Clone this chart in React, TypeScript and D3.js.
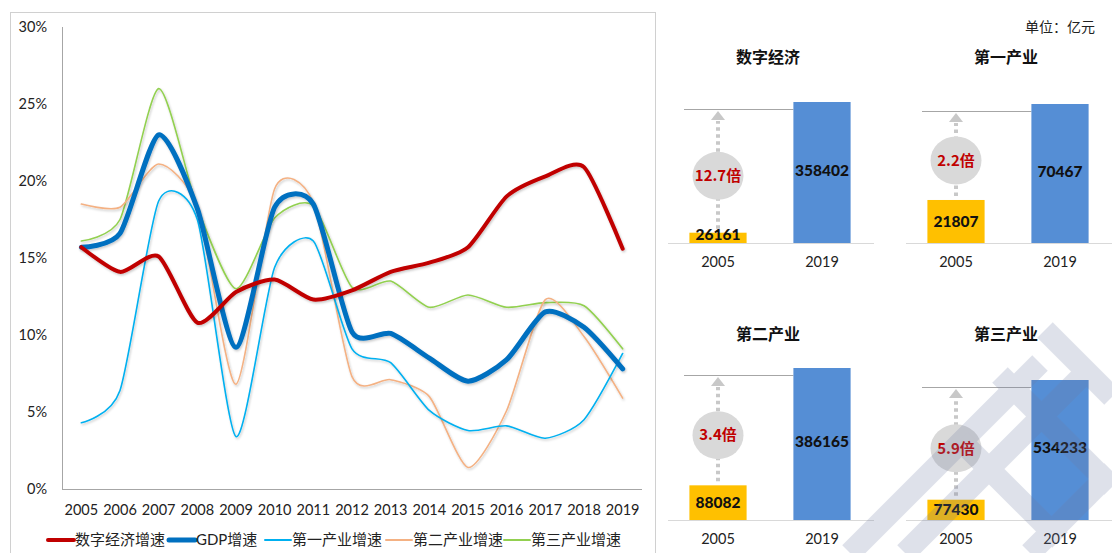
import React from 'react';
import * as d3 from 'd3';

const years = ['2005','2006','2007','2008','2009','2010','2011','2012','2013','2014','2015','2016','2017','2018','2019'];
const digitalGrowth = [15.7, 14.1, 15.1, 10.8, 12.8, 13.6, 12.3, 12.9, 14.1, 14.7, 15.7, 19.0, 20.3, 20.9, 15.6];
const gdpGrowth = [15.7, 16.6, 23.0, 18.2, 9.2, 18.3, 18.5, 10.2, 10.1, 8.5, 7.0, 8.4, 11.5, 10.5, 7.8];
const primaryGrowth = [4.3, 6.4, 18.7, 17.5, 3.4, 14.4, 16.1, 9.1, 8.2, 5.1, 3.8, 4.1, 3.3, 4.5, 8.8];
const secondaryGrowth = [18.5, 18.3, 21.1, 18.3, 6.8, 19.5, 18.6, 7.3, 7.1, 6.0, 1.4, 5.1, 12.3, 9.9, 5.9];
const tertiaryGrowth = [16.1, 17.5, 26.0, 18.3, 13.0, 17.6, 18.4, 13.1, 13.5, 11.8, 12.6, 11.8, 12.1, 11.9, 9.1];
const yTicks = [0, 5, 10, 15, 20, 25, 30];
const seriesNames = ['数字经济增速', 'GDP增速', '第一产业增速', '第二产业增速', '第三产业增速'];

const panelTitles = ['数字经济', '第一产业', '第二产业', '第三产业'];
const barYears = ['2005', '2019'];
const values2005 = [26161, 21807, 88082, 77430];
const values2019 = [358402, 70467, 386165, 534233];
const multiples = ['12.7倍', '2.2倍', '3.4倍', '5.9倍'];
const unitLabel = '单位：亿元';

const FONT = "Lato, 'Noto Sans CJK SC', sans-serif";
const CJK = "'Noto Sans CJK SC', sans-serif";

const seriesStyle = [
  { color: '#C00000', width: 4 },
  { color: '#0070C0', width: 5 },
  { color: '#00B0F0', width: 1.6 },
  { color: '#F4B183', width: 1.6 },
  { color: '#92D050', width: 1.6 },
];

const panelLayout = [
  { x0: 666, x1: 874, base: 243, h: 141 },
  { x0: 904, x1: 1112, base: 243, h: 139 },
  { x0: 666, x1: 874, base: 520, h: 152 },
  { x0: 904, x1: 1112, base: 520, h: 140 },
];

export default function App() {
  const allSeries = [digitalGrowth, gdpGrowth, primaryGrowth, secondaryGrowth, tertiaryGrowth];
  const x = d3.scaleBand().domain(years).range([62, 642]);
  const y = d3.scaleLinear().domain([0, 30]).range([489, 27]);
  const xc = (yr: string) => (x(yr) as number) + x.bandwidth() / 2;
  const line = d3.line<number>()
    .x((_, i) => xc(years[i]))
    .y((d) => y(d))
    .curve(d3.curveCardinal.tension(0.3));

  const legendX = [48, 169, 265, 386, 504];

  return (
    <svg width={1112} height={553} style={{ position: 'absolute', left: 0, top: 0, background: '#fff' }}>
      <defs>
        <filter id="sh" x="-5%" y="-5%" width="110%" height="110%">
          <feDropShadow dx="1" dy="1.5" stdDeviation="1" floodColor="#000" floodOpacity="0.22" />
        </filter>
      </defs>
      <rect x={10.5} y={12.5} width={645} height={560} fill="#fff" stroke="#D0D0D0" />
      <line x1={62.5} x2={62.5} y1={27} y2={489} stroke="#A6A6A6" />
      <line x1={62} x2={642} y1={489.5} y2={489.5} stroke="#A6A6A6" />
      {yTicks.map((t) => (
        <text key={t} x={47} y={y(t)} dy="0.35em" textAnchor="end" fontFamily={FONT} fontSize={14.5} fill="#222">{t}%</text>
      ))}
      {years.map((yr) => (
        <text key={yr} x={xc(yr)} y={510} dy="0.35em" textAnchor="middle" fontFamily={FONT} fontSize={14.5} fill="#222">{yr}</text>
      ))}
      {allSeries.map((s, i) => (
        <path key={i} d={line(s) || ''} fill="none" stroke={seriesStyle[i].color} strokeWidth={seriesStyle[i].width}
          strokeLinecap="round" strokeLinejoin="round" filter="url(#sh)" />
      )).reverse()}
      {seriesNames.map((n, i) => (
        <g key={n}>
          <line x1={legendX[i]} x2={legendX[i] + 26} y1={540} y2={540} stroke={seriesStyle[i].color}
            strokeWidth={Math.max(seriesStyle[i].width, 2)} strokeLinecap="round" />
          <text x={legendX[i] + 27} y={540} dy="0.35em" fontFamily={FONT} fontSize={15} fill="#222">{n}</text>
        </g>
      ))}

      <text x={1095} y={27} dy="0.35em" textAnchor="end" fontFamily={CJK} fontSize={14} fill="#222">{unitLabel}</text>

      {panelTitles.map((title, i) => {
        const L = panelLayout[i];
        const bx = d3.scaleBand().domain(barYears).range([L.x0, L.x1]).paddingInner(0.45).paddingOuter(0.225);
        const by = d3.scaleLinear().domain([0, values2019[i]]).range([L.base, L.base - L.h]);
        const bw = bx.bandwidth();
        const c05 = (bx('2005') as number) + bw / 2;
        const c19 = (bx('2019') as number) + bw / 2;
        const top05 = by(values2005[i]);
        const top19 = by(values2019[i]);
        const refY = top19 + 7;
        const mid = (top05 + refY) / 2 + 5;
        const titleX = (L.x0 + L.x1) / 2 - 2;
        const titleY = L.base - 186;
        return (
          <g key={title}>
            <text x={titleX} y={titleY} dy="0.35em" textAnchor="middle" fontFamily={CJK} fontWeight={700} fontSize={16} fill="#111">{title}</text>
            <line x1={L.x0 + 2} x2={L.x1} y1={L.base + 0.5} y2={L.base + 0.5} stroke="#D9D9D9" />
            <line x1={L.x0 + 18} x2={bx('2019') as number} y1={refY + 0.5} y2={refY + 0.5} stroke="#A6A6A6" />
            <line x1={c05} x2={c05} y1={top05 - 4} y2={refY + 12} stroke="#C8C8C8" strokeWidth={4} strokeDasharray="3.5 3.5" />
            <path d={`M${c05 - 7},${refY + 11}L${c05 + 7},${refY + 11}L${c05},${refY + 2}Z`} fill="#C8C8C8" />
            <ellipse cx={c05} cy={mid} rx={25.5} ry={24} fill="#D9D9D9" />
            <text x={c05} y={mid} dy="0.35em" textAnchor="middle" fontFamily={CJK} fontWeight={700} fontSize={15} fill="#C00000">{multiples[i]}</text>
            <rect x={bx('2005') as number} y={top05} width={bw} height={L.base - top05} fill="#FFC000" />
            <rect x={bx('2019') as number} y={top19} width={bw} height={L.base - top19} fill="#558ED5" />
            <text x={c05} y={Math.min(top05 + (L.base - top05) / 2, L.base - 8)} dy="0.35em" textAnchor="middle" fontFamily={FONT} fontWeight={900} fontSize={15.5} fill="#111">{values2005[i]}</text>
            <text x={c19} y={(top19 + L.base) / 2 - 2} dy="0.35em" textAnchor="middle" fontFamily={FONT} fontWeight={900} fontSize={15.5} fill="#111">{values2019[i]}</text>
            {barYears.map((yr) => (
              <text key={yr} x={(bx(yr) as number) + bw / 2} y={L.base + 19} dy="0.35em" textAnchor="middle" fontFamily={FONT} fontSize={14.5} fill="#222">{yr}</text>
            ))}
          </g>
        );
      })}

      <g opacity={0.22} stroke="#6F7BA3" strokeWidth={22} fill="none" strokeLinecap="butt">
        <path d="M850,553 L1040,363" />
        <path d="M905,553 L1080,378" />
        <path d="M1000,375 L1112,487" />
        <path d="M1045,330 L1112,397" />
        <path d="M1030,553 L1112,471" />
        <path d="M960,440 L1060,540" />
      </g>
    </svg>
  );
}
